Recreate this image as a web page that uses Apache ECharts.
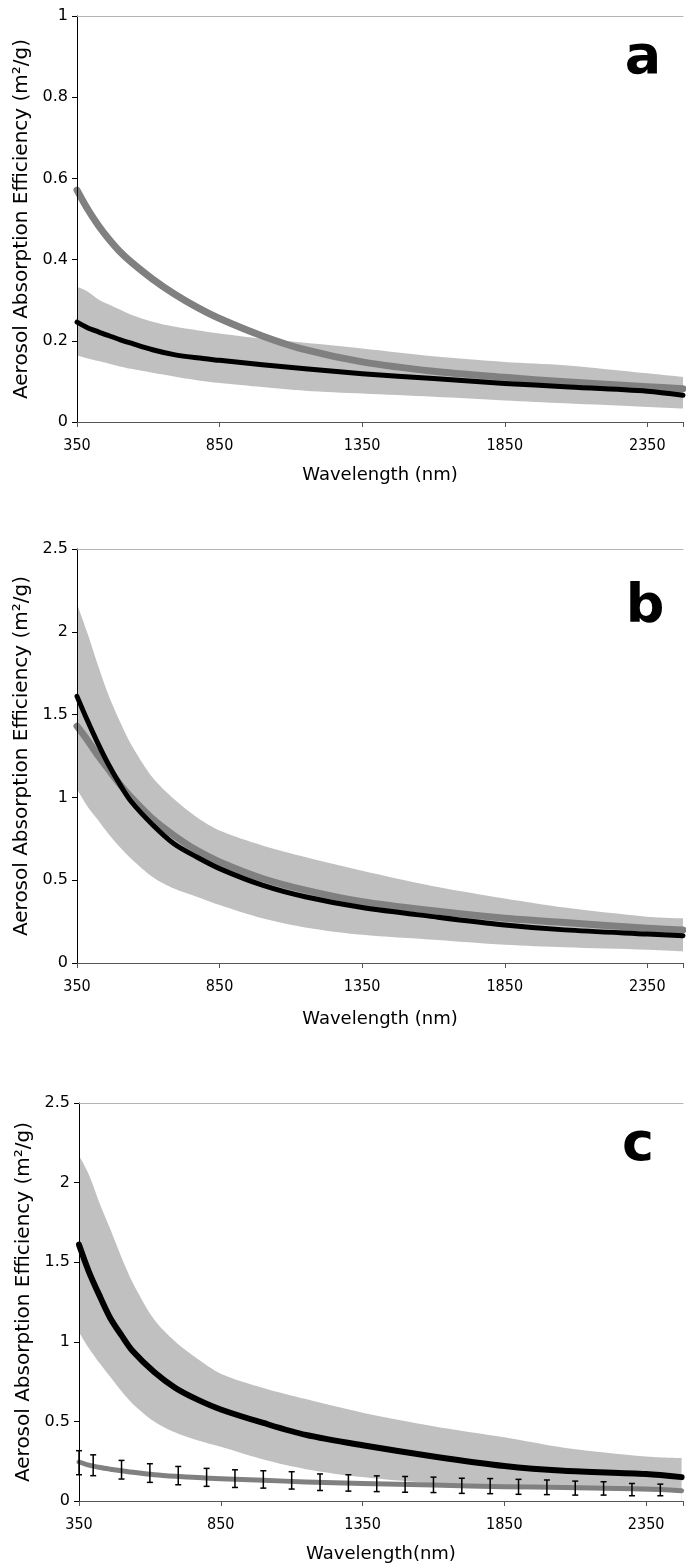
<!DOCTYPE html>
<html>
<head>
<meta charset="utf-8">
<script src="https://cdn.jsdelivr.net/npm/echarts@6/dist/echarts.min.js"></script>
<style>
html, body { margin: 0; padding: 0; background: #fff; }
#main { width: 686px; height: 1568px; }
</style>
</head>
<body>
<div id="main"></div>
<script>
// wavelengths (nm) the curves were read at
var wl = [350, 385, 425, 460, 500, 540, 615, 690, 770, 850, 1000, 1150, 1350, 1600, 1850, 2060, 2350, 2475];

// panel a
var aUpper = [0.333, 0.322, 0.302, 0.290, 0.277, 0.264, 0.247, 0.235, 0.226, 0.218, 0.205, 0.195, 0.181, 0.162, 0.148, 0.140, 0.120, 0.111];
var aLower = [0.164, 0.157, 0.150, 0.144, 0.137, 0.131, 0.121, 0.112, 0.103, 0.096, 0.086, 0.077, 0.070, 0.062, 0.053, 0.046, 0.037, 0.033];
var aMeasured = [0.246, 0.233, 0.222, 0.213, 0.203, 0.194, 0.178, 0.166, 0.158, 0.152, 0.141, 0.131, 0.119, 0.107, 0.095, 0.087, 0.076, 0.066];
var aModel = [0.571, 0.527, 0.484, 0.452, 0.420, 0.394, 0.352, 0.316, 0.283, 0.255, 0.212, 0.178, 0.148, 0.125, 0.110, 0.099, 0.087, 0.082];

// panel b
var bUpper = [2.17, 2.00, 1.79, 1.62, 1.46, 1.32, 1.12, 0.99, 0.88, 0.80, 0.71, 0.64, 0.557, 0.464, 0.39, 0.335, 0.28, 0.27];
var bLower = [1.05, 0.95, 0.86, 0.78, 0.70, 0.63, 0.52, 0.45, 0.40, 0.35, 0.27, 0.215, 0.17, 0.14, 0.11, 0.095, 0.08, 0.07];
var bMeasured = [1.61, 1.47, 1.32, 1.20, 1.08, 0.975, 0.835, 0.72, 0.64, 0.57, 0.47, 0.40, 0.335, 0.28, 0.23, 0.20, 0.175, 0.165];
var bModel = [1.43, 1.35, 1.25, 1.17, 1.08, 1.00, 0.87, 0.77, 0.68, 0.61, 0.51, 0.44, 0.37, 0.315, 0.27, 0.245, 0.21, 0.20];

// panel c
var cUpper = [2.17, 2.05, 1.86, 1.71, 1.53, 1.37, 1.14, 1.00, 0.89, 0.80, 0.71, 0.64, 0.555, 0.47, 0.40, 0.335, 0.28, 0.27];
var cLower = [1.06, 0.96, 0.86, 0.78, 0.69, 0.61, 0.50, 0.43, 0.38, 0.34, 0.26, 0.20, 0.15, 0.11, 0.09, 0.075, 0.06, 0.055];
var cMeasured = [1.61, 1.44, 1.28, 1.15, 1.04, 0.94, 0.81, 0.71, 0.635, 0.575, 0.49, 0.415, 0.35, 0.28, 0.22, 0.19, 0.17, 0.15];
var cModel = [0.245, 0.225, 0.210, 0.200, 0.190, 0.180, 0.165, 0.155, 0.147, 0.140, 0.130, 0.120, 0.110, 0.100, 0.090, 0.085, 0.075, 0.065];

// error bars on the panel c model curve
var errWl = [350, 400, 500, 600, 700, 800, 900, 1000, 1100, 1200, 1300, 1400, 1500, 1600, 1700, 1800, 1900, 2000, 2100, 2200, 2300, 2400];
var errHigh = [0.316, 0.290, 0.255, 0.234, 0.217, 0.205, 0.196, 0.190, 0.184, 0.170, 0.165, 0.158, 0.154, 0.150, 0.143, 0.141, 0.136, 0.132, 0.125, 0.121, 0.110, 0.106];
var errLow = [0.165, 0.159, 0.138, 0.117, 0.102, 0.092, 0.085, 0.081, 0.075, 0.066, 0.062, 0.059, 0.055, 0.053, 0.048, 0.046, 0.042, 0.040, 0.037, 0.037, 0.033, 0.033];

// tick labels
var xTicks = [350, 850, 1350, 1850, 2350];
var yTicksA = [0, 0.2, 0.4, 0.6, 0.8, 1];
var yTicksBC = [0, 0.5, 1, 1.5, 2, 2.5];

var panelLetters = ['a', 'b', 'c'];
var xNames = ['Wavelength (nm)', 'Wavelength (nm)', 'Wavelength(nm)'];
var yName = 'Aerosol Absorption Efficiency (m\u00b2/g)';

function pairs(xs, ys) {
    var out = [];
    for (var i = 0; i < xs.length; i++) out.push([xs[i], ys[i]]);
    return out;
}

var grids = [
    { left: 77, top: 16, right: 0, height: 406 },
    { left: 77, top: 549, right: 0, height: 414 },
    { left: 79, top: 1103, right: 0, height: 398 }
];
var xMax = [2475, 2475, 2480];
var nameGaps = [44, 47, 44];

var xAxes = [];
var yAxes = [];
for (var g = 0; g < 3; g++) {
    xAxes.push({
        type: 'value', gridIndex: g, position: 'bottom', z: 10,
        min: xTicks[0], max: xMax[g], interval: xTicks[1] - xTicks[0],
        name: xNames[g], nameLocation: 'middle', nameGap: nameGaps[g],
        nameTextStyle: { fontFamily: 'DejaVu Sans', fontSize: 18, color: '#000' },
        axisLine: { lineStyle: { color: '#555', width: 1 } },
        axisTick: { show: true, length: 5, lineStyle: { color: '#555' } },
        axisLabel: {
            margin: 16, color: '#000', fontSize: 16,
            fontFamily: "'DejaVu Sans Condensed', 'DejaVu Sans'",
            formatter: function (v) { return xTicks.indexOf(v) >= 0 ? String(v) : ''; }
        },
        splitLine: { show: false }
    });
    var yt = g === 0 ? yTicksA : yTicksBC;
    yAxes.push({
        type: 'value', gridIndex: g, z: 10,
        min: yt[0], max: yt[yt.length - 1], interval: yt[1] - yt[0],
        name: yName, nameLocation: 'middle', nameGap: 42,
        nameTextStyle: { fontFamily: 'DejaVu Sans', fontSize: 20, color: '#000' },
        axisLine: { show: true, lineStyle: { color: '#000', width: 1 } },
        axisTick: { show: true, length: 5, lineStyle: { color: '#000' } },
        axisLabel: { margin: 9, color: '#000', fontSize: 16, fontFamily: 'DejaVu Sans' },
        splitLine: { show: false }
    });
}
// light grey top border
for (var g = 0; g < 3; g++) {
    xAxes.push({
        type: 'value', gridIndex: g, position: 'top', z: 10,
        min: xTicks[0], max: xMax[g],
        axisLine: { lineStyle: { color: '#b4b4b4', width: 1 } },
        axisTick: { show: false }, axisLabel: { show: false }, splitLine: { show: false }
    });
}

// the band: grey area under the upper edge, then white area under the lower edge
function band(idx, hi, lo) {
    return [
        {
            type: 'line', xAxisIndex: idx, yAxisIndex: idx,
            data: pairs(wl, hi), smooth: 0.3, showSymbol: false, silent: true,
            lineStyle: { opacity: 0 },
            areaStyle: { color: '#c0c0c0', opacity: 1 }
        },
        {
            type: 'line', xAxisIndex: idx, yAxisIndex: idx,
            data: pairs(wl, lo), smooth: 0.3, showSymbol: false, silent: true,
            lineStyle: { opacity: 0 },
            areaStyle: { color: '#fff', opacity: 1 }
        }
    ];
}
function curve(idx, ys, color, width) {
    return {
        type: 'line', xAxisIndex: idx, yAxisIndex: idx,
        data: pairs(wl, ys), smooth: 0.3, showSymbol: false, silent: true,
        lineStyle: { color: color, width: width, cap: 'round', join: 'round' }
    };
}

var series = [];
series = series.concat(band(0, aUpper, aLower));
series.push(curve(0, aModel, '#808080', 7));
series.push(curve(0, aMeasured, '#000', 5));

series = series.concat(band(1, bUpper, bLower));
series.push(curve(1, bModel, '#808080', 7));
series.push(curve(1, bMeasured, '#000', 5));

series = series.concat(band(2, cUpper, cLower));
series.push(curve(2, cMeasured, '#000', 6));
series.push(curve(2, cModel, '#808080', 5));

var errData = [];
for (var i = 0; i < errWl.length; i++) errData.push([errWl[i], errLow[i], errHigh[i]]);
series.push({
    type: 'custom', xAxisIndex: 2, yAxisIndex: 2, silent: true,
    data: errData,
    encode: { x: 0, y: [1, 2] },
    renderItem: function (params, api) {
        var lo = api.coord([api.value(0), api.value(1)]);
        var hi = api.coord([api.value(0), api.value(2)]);
        var hw = 3;
        var st = { stroke: '#000', lineWidth: 1.5 };
        return {
            type: 'group',
            children: [
                { type: 'line', shape: { x1: lo[0], y1: lo[1], x2: hi[0], y2: hi[1] }, style: st },
                { type: 'line', shape: { x1: lo[0] - hw, y1: lo[1], x2: lo[0] + hw, y2: lo[1] }, style: st },
                { type: 'line', shape: { x1: hi[0] - hw, y1: hi[1], x2: hi[0] + hw, y2: hi[1] }, style: st }
            ]
        };
    },
    z: 5
});

// panel letters
var letterPos = [[643, 59], [645, 608], [638, 1146]];
var graphics = [];
for (var k = 0; k < 3; k++) {
    graphics.push({
        type: 'text', x: letterPos[k][0], y: letterPos[k][1], silent: true, z: 100,
        style: {
            text: panelLetters[k], fill: '#000', fontSize: 54, fontWeight: 'bold',
            fontFamily: 'DejaVu Sans', align: 'center', verticalAlign: 'middle'
        }
    });
}

var chart = echarts.init(document.getElementById('main'));
chart.setOption({
    animation: false,
    backgroundColor: '#fff',
    grid: grids,
    xAxis: xAxes,
    yAxis: yAxes,
    graphic: graphics,
    series: series
});
</script>
</body>
</html>
